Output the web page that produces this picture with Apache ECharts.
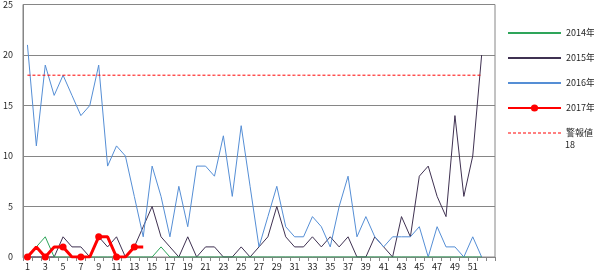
<!DOCTYPE html>
<html>
<head>
<meta charset="utf-8">
<script src="https://cdn.jsdelivr.net/npm/echarts@6/dist/echarts.min.js"></script>
<style>html,body{margin:0;padding:0;background:#fff;}#c{width:594px;height:274px;}</style>
</head>
<body>
<div id="c"></div>
<script>
var weeks = ['1','2','3','4','5','6','7','8','9','10','11','12','13','14','15','16','17','18','19','20','21','22','23','24','25','26','27','28','29','30','31','32','33','34','35','36','37','38','39','40','41','42','43','44','45','46','47','48','49','50','51','52',''];
var yTicks = [0, 5, 10, 15, 20, 25];
var y2014 = [0,1,2,0,0,0,0,0,0,0,0,0,0,0,0,1,0,0,0,0,0,0,0,0,0,0,0,0,0,0,0,0,0,0,0,0,0,0,0,0,0,0,0,0,0,0,0,0,0,0,0,0];
var y2015 = [0,0,0,0,2,1,1,0,2,1,2,0,1,3,5,2,1,0,2,0,1,1,0,0,1,0,1,2,5,2,1,1,2,1,2,1,2,0,0,2,1,0,4,2,8,9,6,4,14,6,10,20];
var y2016 = [21,11,19,16,18,16,14,15,19,9,11,10,6,2,9,6,2,7,3,9,9,8,12,6,13,7,1,4,7,3,2,2,4,3,1,5,8,2,4,2,1,2,2,2,3,0,3,1,1,0,2,0];
var y2017 = [0,1,0,1,1,0,0,0,2,2,0,0,1,1];
var alarm = [18,18,18,18,18,18,18,18,18,18,18,18,18,18,18,18,18,18,18,18,18,18,18,18,18,18,18,18,18,18,18,18,18,18,18,18,18,18,18,18,18,18,18,18,18,18,18,18,18,18,18,18];
var seriesNames = ['2014年','2015年','2016年','2017年','警報値'];
var alarmSub = '18';

var FONT = "'Noto Sans CJK JP', sans-serif";
var GRID = '#868686';
var TXT = '#262626';
var noSym = {opacity: 0};
var chart = echarts.init(document.getElementById('c'), null, {renderer: 'canvas'});
chart.setOption({
  animation: false,
  textStyle: {fontFamily: FONT},
  grid: {left: 20, right: 99, top: 3, bottom: 17, show: true, borderColor: GRID, borderWidth: 1, backgroundColor: 'transparent'},
  legend: {
    orient: 'vertical', left: 507, top: 27, padding: 0,
    itemWidth: 53, itemHeight: 9, itemGap: 13,
    textStyle: {fontSize: 9, lineHeight: 12, color: TXT, fontFamily: FONT},
    data: [
      {name: seriesNames[0], itemStyle: noSym},
      {name: seriesNames[1], itemStyle: noSym},
      {name: seriesNames[2], itemStyle: noSym},
      {name: seriesNames[3]},
      {name: seriesNames[4], itemStyle: noSym, lineStyle: {width: 1}}
    ]
  },
  graphic: [{type: 'text', left: 565, top: 140, style: {text: alarmSub, font: '9px ' + FONT, fill: TXT}}],
  xAxis: {
    type: 'category', data: weeks, boundaryGap: true,
    axisLine: {lineStyle: {color: GRID, width: 1}},
    axisTick: {show: true, interval: 0, length: 4, lineStyle: {color: GRID}},
    axisLabel: {interval: 1, fontSize: 9, color: TXT, margin: 5, fontFamily: FONT},
    splitLine: {show: false}
  },
  yAxis: {
    type: 'value', min: yTicks[0], max: yTicks[yTicks.length-1], interval: 5,
    axisLine: {show: true, lineStyle: {color: GRID, width: 1}},
    axisTick: {show: false},
    axisLabel: {fontSize: 9, color: TXT, margin: 10, fontFamily: FONT},
    splitLine: {show: true, lineStyle: {color: GRID, width: 1}}
  },
  series: [
    {name: seriesNames[1], type: 'line', data: y2015, symbol: 'none', z: 2, lineStyle: {color: '#3f3151', width: 1}, itemStyle: {color: '#3f3151'}},
    {name: seriesNames[2], type: 'line', data: y2016, symbol: 'none', z: 3, lineStyle: {color: '#558ed5', width: 1}, itemStyle: {color: '#558ed5'}},
    {name: seriesNames[0], type: 'line', data: y2014, symbol: 'none', z: 4, lineStyle: {color: '#2ea55a', width: 1}, itemStyle: {color: '#2ea55a'}},
    {name: seriesNames[4], type: 'line', data: alarm, symbol: 'none', z: 5, lineStyle: {color: '#ff0000', width: 1, type: [3, 2]}, itemStyle: {color: '#ff0000'}},
    {name: seriesNames[3], type: 'line', data: y2017, symbol: 'circle', symbolSize: 7, showSymbol: true, z: 6, lineStyle: {color: '#ff0000', width: 3}, itemStyle: {color: '#ff0000'}}
  ]
});
</script>
</body>
</html>
